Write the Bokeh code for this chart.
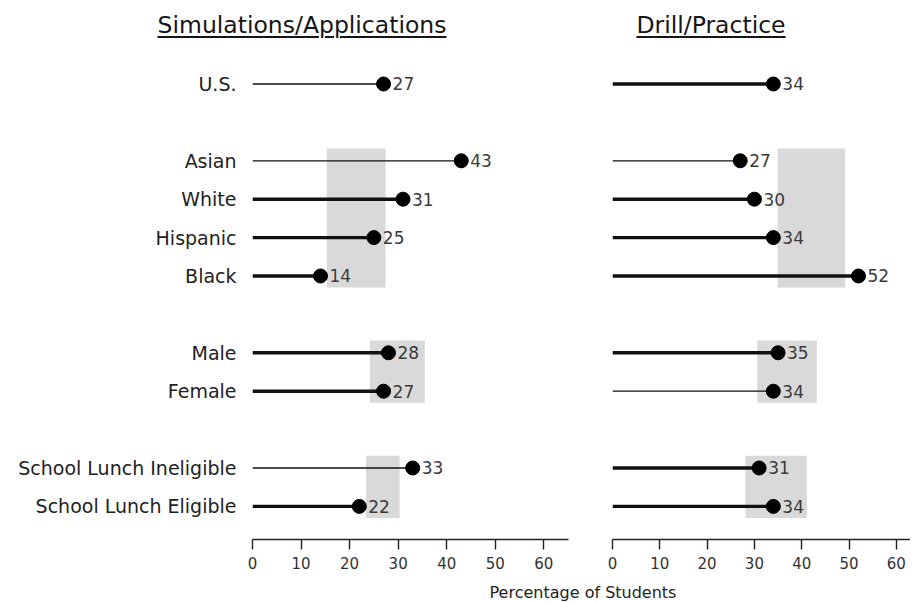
from bokeh.plotting import figure
from bokeh.models import Range1d, FixedTicker, Div, Spacer
from bokeh.layouts import row, column
from bokeh.embed import file_html
from bokeh.resources import INLINE
from bokeh.core.properties import value

# ---------------- data ----------------
categories = ["U.S.", "Asian", "White", "Hispanic", "Black", "Male", "Female",
              "School Lunch Ineligible", "School Lunch Eligible"]
groups = ["Total", "Race", "Race", "Race", "Race", "Gender", "Gender", "SES", "SES"]

sim_title = "Simulations/Applications"
sim_values = [27, 43, 31, 25, 14, 28, 27, 33, 22]
sim_thick = [False, False, True, True, True, True, True, False, True]

drill_title = "Drill/Practice"
drill_values = [34, 27, 30, 34, 52, 35, 34, 31, 34]
drill_thick = [True, False, True, True, True, True, False, True, True]

band_groups = ["Race", "Gender", "SES"]
sim_band_lo = [15.3, 24.2, 23.4]
sim_band_hi = [27.4, 35.5, 30.3]
drill_band_lo = [34.9, 30.6, 28.1]
drill_band_hi = [49.2, 43.2, 41.1]

x_ticks = [0, 10, 20, 30, 40, 50, 60]
x_axis_label = "Percentage of Students"

# ---------------- layout helpers ----------------
FONT = "DejaVu Sans"

rows = []
r, prev = 0, None
for g in groups:
    if prev is not None:
        r += 1 if g == prev else 2
    rows.append(r)
    prev = g

band_top = [min(rw for rw, g in zip(rows, groups) if g == bg) - 0.32 for bg in band_groups]
band_bot = [max(rw for rw, g in zip(rows, groups) if g == bg) + 0.30 for bg in band_groups]

y_range = Range1d(start=11.862, end=-0.924)

PLOT_H = 527


def make_panel(values, thick, lo, hi, x_end, width, border_left, border_right, show_y):
    p = figure(width=width, height=PLOT_H, x_range=Range1d(0, x_end), y_range=y_range,
               output_backend="svg", toolbar_location=None,
               min_border_left=border_left, min_border_right=border_right,
               min_border_top=0, min_border_bottom=36,
               y_axis_location="left" if show_y else None)
    p.outline_line_color = None
    p.grid.visible = False
    p.background_fill_color = "white"

    p.quad(left=lo, right=hi, top=band_top, bottom=band_bot,
           fill_color="#d9d9d9", line_color=None)
    p.segment(x0=[0] * len(values), y0=rows, x1=values, y1=rows,
              line_width=[3.4 if t else 1.3 for t in thick], line_color="#111111")
    p.scatter(x=values, y=rows, size=14, marker="circle",
              fill_color="black", line_color="black")
    p.text(x=values, y=rows, text=[str(v) for v in values], x_offset=9,
           text_align="left", text_baseline="middle",
           text_font=value(FONT), text_font_size="17px", text_color="#3a3a3a")

    ax = p.xaxis[0]
    ax.ticker = FixedTicker(ticks=x_ticks)
    ax.bounds = (0, 65)
    ax.major_tick_out = 10
    ax.major_tick_in = 0
    ax.minor_tick_line_color = None
    ax.axis_line_width = 1.4
    ax.axis_line_color = "#222222"
    ax.major_tick_line_width = 1.4
    ax.major_tick_line_color = "#222222"
    ax.major_label_text_font = FONT
    ax.major_label_text_font_size = "15px"
    ax.major_label_text_color = "#333333"
    ax.major_label_standoff = 7

    if show_y:
        ya = p.yaxis[0]
        ya.ticker = FixedTicker(ticks=rows)
        ya.major_label_overrides = {rw: c for rw, c in zip(rows, categories)}
        ya.axis_line_color = None
        ya.major_tick_line_color = None
        ya.major_tick_out = 0
        ya.major_tick_in = 0
        ya.minor_tick_line_color = None
        ya.major_label_text_font = FONT
        ya.major_label_text_font_size = "19px"
        ya.major_label_text_color = "#222222"
        ya.major_label_standoff = 16
    return p


p1 = make_panel(sim_values, sim_thick, sim_band_lo, sim_band_hi,
                65.09, 588, 252, 20, True)
p2 = make_panel(drill_values, drill_thick, drill_band_lo, drill_band_hi,
                63.0, 322, 24, 0, False)


def title_div(txt, w):
    html = ('<div style="width:%dpx;padding-top:12px;line-height:27px;text-align:center;'
            'font-family:\'DejaVu Sans\';font-size:23.5px;color:#151515;'
            'text-decoration:underline;text-decoration-thickness:2px;'
            'text-underline-offset:3px;white-space:nowrap">%s</div>') % (w, txt)
    return Div(text=html, width=w, height=48, margin=(0, 0, 0, 0))


t1 = title_div(sim_title, 604)
t2 = title_div(drill_title, 214)

lab_html = ('<div style="width:320px;padding-top:8px;text-align:center;font-family:\'DejaVu Sans\';'
            'font-size:16px;line-height:19px;color:#222222;white-space:nowrap">%s</div>'
            % x_axis_label)
lab = Div(text=lab_html, width=320, height=25, margin=(0, 0, 0, 0))
sp = Spacer(width=423, height=25, margin=(0, 0, 0, 0))

layout = column(row(t1, t2, margin=(0, 0, 0, 0)),
                row(p1, p2, margin=(0, 0, 0, 0)),
                row(sp, lab, margin=(0, 0, 0, 0)),
                margin=(0, 0, 0, 0))

open("out.html", "w").write(file_html(layout, INLINE))
